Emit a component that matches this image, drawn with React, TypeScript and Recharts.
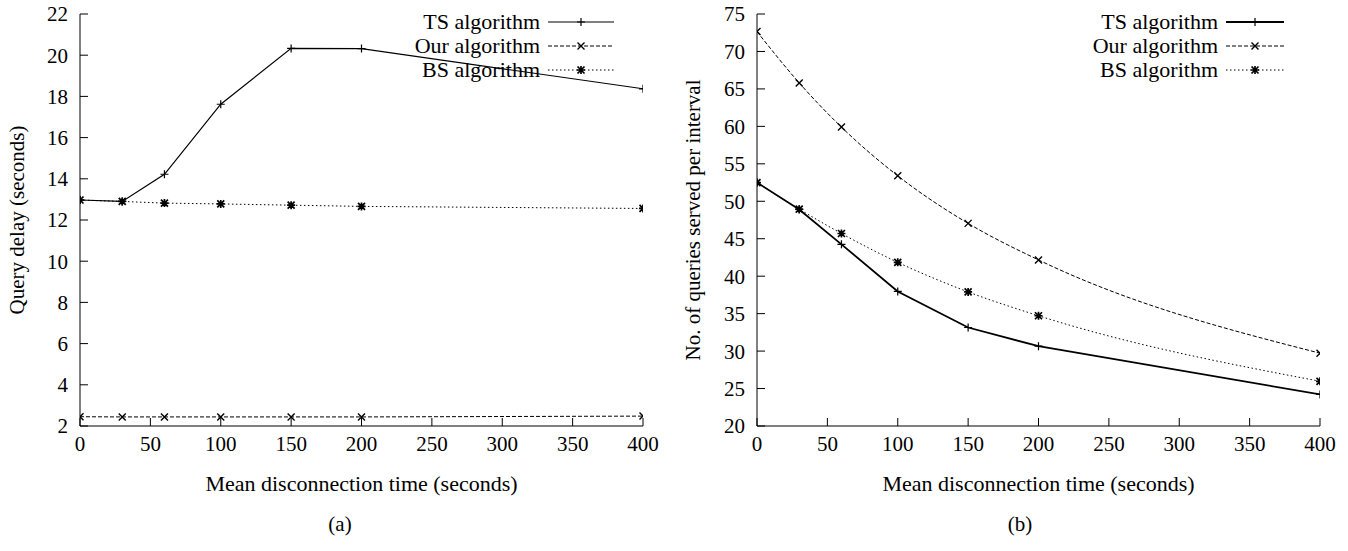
import { LineChart, Line, XAxis, YAxis, Legend } from 'recharts';

// values
const disconnectTimes = [0, 30, 60, 100, 150, 200, 400];
const xTicks = [0, 50, 100, 150, 200, 250, 300, 350, 400];
const delayTicks = [2, 4, 6, 8, 10, 12, 14, 16, 18, 20, 22];
const servedTicks = [20, 25, 30, 35, 40, 45, 50, 55, 60, 65, 70, 75];

// (a) query delay
const delayTS = [12.97, 12.9, 14.22, 17.62, 20.33, 20.32, 18.37];
const delayOur = [2.45, 2.44, 2.44, 2.44, 2.44, 2.44, 2.48];
const delayBS = [12.97, 12.9, 12.82, 12.78, 12.72, 12.66, 12.56];

// (b) queries served per interval
const servedTS = [52.5, 48.9, 44.25, 37.96, 33.15, 30.65, 24.22];
const servedOur = [72.65, 65.8, 59.9, 53.4, 47.05, 42.17, 29.72];
const servedBS = [52.5, 48.95, 45.7, 41.85, 37.9, 34.72, 25.97];

const seriesNames = ['TS algorithm', 'Our algorithm', 'BS algorithm'];

const delayRows = disconnectTimes.map((t, i) => ({ t, ts: delayTS[i], our: delayOur[i], bs: delayBS[i] }));
const servedRows = disconnectTimes.map((t, i) => ({ t, ts: servedTS[i], our: servedOur[i], bs: servedBS[i] }));

const FONT = '"Liberation Serif", "Times New Roman", serif';
const INK = '#000';

type MarkProps = { cx?: number; cy?: number };

const Plus = ({ cx = 0, cy = 0 }: MarkProps) => (
  <path d={`M${cx - 4},${cy}H${cx + 4}M${cx},${cy - 4}V${cy + 4}`} stroke={INK} strokeWidth={1.2} fill="none" />
);
const Cross = ({ cx = 0, cy = 0 }: MarkProps) => (
  <path d={`M${cx - 3.5},${cy - 3.5}L${cx + 3.5},${cy + 3.5}M${cx - 3.5},${cy + 3.5}L${cx + 3.5},${cy - 3.5}`} stroke={INK} strokeWidth={1.4} fill="none" />
);
const Star = ({ cx = 0, cy = 0 }: MarkProps) => (
  <path
    d={`M${cx - 4},${cy}H${cx + 4}M${cx},${cy - 4}V${cy + 4}M${cx - 3.5},${cy - 3.5}L${cx + 3.5},${cy + 3.5}M${cx - 3.5},${cy + 3.5}L${cx + 3.5},${cy - 3.5}`}
    stroke={INK}
    strokeWidth={1.7}
    fill="none"
  />
);

const marks = [Plus, Cross, Star];
const dashes = [undefined, '4 2', '1.5 2.5'];

const dotFor = (i: number) => (p: any) => {
  const M = marks[i];
  return <M key={`m${i}-${p.index}`} cx={p.cx} cy={p.cy} />;
};

const LegendBox = ({ sample, widths }: { sample: number; widths: number[] }) => (
  <div style={{ fontFamily: FONT, fontSize: 22, color: INK }}>
    {seriesNames.map((name, i) => {
      const M = marks[i];
      return (
        <div key={name} style={{ display: 'flex', justifyContent: 'flex-end', alignItems: 'center', height: 24 }}>
          <span style={{ lineHeight: '24px' }}>{name}</span>
          <svg width={sample + 8} height={24} style={{ display: 'block' }}>
            <line x1={8} x2={8 + sample} y1={12} y2={12} stroke={INK} strokeWidth={widths[i]} strokeDasharray={dashes[i]} />
            <M cx={8 + sample / 2} cy={12} />
          </svg>
        </div>
      );
    })}
  </div>
);

const tickStyle = { fill: INK, fontSize: 21, fontFamily: FONT };

type PanelProps = {
  rows: any[];
  domain: [number, number];
  yTicks: number[];
  yLabel: string;
  yWidth: number;
  yLabelOffset: number;
  rightMargin: number;
  widths: number[];
  curved: boolean;
  legendLeft: number;
  sample: number;
};

const Panel = (p: PanelProps) => (
  <LineChart
    width={674}
    height={551}
    data={p.rows}
    margin={{ top: 14, right: p.rightMargin, left: 8, bottom: 60 }}
  >
    <XAxis
      dataKey="t"
      type="number"
      domain={[0, 400]}
      ticks={xTicks}
      allowDataOverflow
      stroke={INK}
      tickSize={-8}
      tickMargin={18}
      tick={tickStyle}
      height={65}
      label={{ value: 'Mean disconnection time (seconds)', position: 'insideBottom', offset: 0, fill: INK, fontSize: 22, fontFamily: FONT }}
    />
    <XAxis
      xAxisId="top"
      orientation="top"
      type="number"
      domain={[0, 400]}
      ticks={xTicks}
      allowDataOverflow
      stroke={INK}
      tickSize={-8}
      height={0}
      tickFormatter={() => ''}
    />
    <YAxis
      type="number"
      domain={p.domain}
      ticks={p.yTicks}
      allowDataOverflow
      stroke={INK}
      tickSize={-8}
      tickMargin={20}
      tick={tickStyle}
      width={p.yWidth}
      label={{
        value: p.yLabel,
        angle: -90,
        position: 'insideLeft',
        offset: p.yLabelOffset,
        fill: INK,
        fontSize: 21,
        fontFamily: FONT,
        style: { textAnchor: 'middle' },
      }}
    />
    <YAxis
      yAxisId="right"
      orientation="right"
      type="number"
      domain={p.domain}
      ticks={p.yTicks}
      allowDataOverflow
      stroke={INK}
      tickSize={-8}
      width={0}
      tickFormatter={() => ''}
    />
    <Legend
      layout="horizontal"
      verticalAlign="middle"
      align="center"
      wrapperStyle={{ top: 10, left: p.legendLeft, width: 260 }}
      content={() => <LegendBox sample={p.sample} widths={p.widths} />}
    />
    <Line
      dataKey="ts"
      name={seriesNames[0]}
      type="linear"
      stroke={INK}
      strokeWidth={p.widths[0]}
      dot={dotFor(0)}
      isAnimationActive={false}
    />
    <Line
      dataKey="our"
      name={seriesNames[1]}
      type={p.curved ? 'monotone' : 'linear'}
      stroke={INK}
      strokeWidth={p.widths[1]}
      strokeDasharray={dashes[1]}
      dot={dotFor(1)}
      isAnimationActive={false}
    />
    <Line
      dataKey="bs"
      name={seriesNames[2]}
      type={p.curved ? 'monotone' : 'linear'}
      stroke={INK}
      strokeWidth={p.widths[2]}
      strokeDasharray={dashes[2]}
      dot={dotFor(2)}
      isAnimationActive={false}
    />
  </LineChart>
);

const captionStyle: React.CSSProperties = {
  position: 'absolute',
  top: 512,
  fontFamily: FONT,
  fontSize: 21,
  color: INK,
  width: 60,
  textAlign: 'center',
};

export default function App() {
  return (
    <div style={{ position: 'absolute', left: 0, top: 0, width: 1348, height: 551, background: '#fff' }}>
      <div style={{ position: 'absolute', left: 0, top: 0 }}>
        <Panel
          rows={delayRows}
          domain={[2, 22]}
          yTicks={delayTicks}
          yLabel="Query delay (seconds)"
          yWidth={72}
          yLabelOffset={9}
          rightMargin={31}
          widths={[1.2, 1, 1]}
          curved={false}
          legendLeft={354}
          sample={66}
        />
      </div>
      <div style={{ position: 'absolute', left: 674, top: 0 }}>
        <Panel
          rows={servedRows}
          domain={[20, 75]}
          yTicks={servedTicks}
          yLabel="No. of queries served per interval"
          yWidth={75}
          yLabelOffset={11}
          rightMargin={28}
          widths={[1.8, 1, 1]}
          curved={true}
          legendLeft={350}
          sample={58}
        />
      </div>
      <div style={{ ...captionStyle, left: 310 }}>(a)</div>
      <div style={{ ...captionStyle, left: 990 }}>(b)</div>
    </div>
  );
}
